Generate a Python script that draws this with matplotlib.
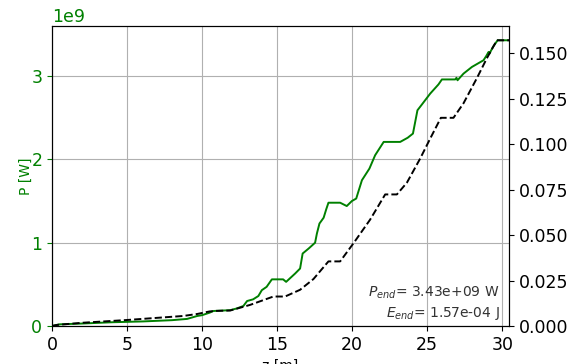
"""
Power and energy along z
"""

import matplotlib
matplotlib.use('Agg')
import matplotlib.pyplot as plt
from matplotlib.ticker import MultipleLocator
import numpy as np

# power curve
z_p = [0, 0.5, 2.07, 4, 6.07, 8, 9, 9.67, 10, 10.5, 10.75, 11.87, 12.3, 12.75,
       13, 13.4, 13.75, 13.98, 14.3, 14.65, 15.4, 15.6, 15.9, 16.2, 16.53, 16.7,
       17.1, 17.53, 17.65, 17.82, 18.1, 18.27, 18.42, 19.2, 19.64, 19.98, 20.27,
       20.65, 21.15, 21.53, 22.1, 23.2, 23.7, 24.05, 24.35, 24.65, 25.2, 25.75,
       25.98, 26.87, 26.95, 27.02, 27.42, 27.98, 28.75, 28.93, 29.09, 29.15,
       29.38, 29.69, 30.45]
p_gw = [0, 0.02, 0.03, 0.045, 0.055, 0.07, 0.085, 0.12, 0.13, 0.16, 0.18, 0.19,
        0.21, 0.24, 0.30, 0.32, 0.36, 0.43, 0.47, 0.56, 0.56, 0.53, 0.58, 0.63,
        0.69, 0.87, 0.93, 1.0, 1.11, 1.23, 1.30, 1.40, 1.48, 1.48, 1.44, 1.50,
        1.53, 1.75, 1.89, 2.05, 2.21, 2.21, 2.26, 2.31, 2.59, 2.66, 2.79, 2.90,
        2.96, 2.96, 2.98, 2.95, 3.03, 3.11, 3.19, 3.24, 3.29, 3.27, 3.35, 3.43,
        3.43]

# energy curve (mJ)
z_e = [0, 0.33, 2.07, 5, 7.2, 8.73, 9.67, 10.5, 10.9, 11.87, 13.2, 14.75, 15.53,
       16.53, 17.42, 18.42, 19.2, 20.1, 21.2, 22.2, 22.98, 23.65, 24.53, 25.2,
       25.91, 26.75, 27.42, 28.31, 28.98, 29.64, 30.45]
e_mj = [0, 0.0006, 0.0018, 0.0033, 0.0046, 0.0055, 0.0066, 0.0080, 0.0083,
        0.0085, 0.0116, 0.0162, 0.0162, 0.0199, 0.0258, 0.0355, 0.0355, 0.0456,
        0.0585, 0.0723, 0.0723, 0.0788, 0.092, 0.103, 0.1144, 0.1144, 0.1224,
        0.1362, 0.1472, 0.157, 0.157]

P_END = 3.43e9
E_END = 1.57e-4

p_w = np.array(p_gw) * 1e9

fig = plt.figure(figsize=(5.67, 3.64), dpi=100)
ax = fig.add_axes([52/567, 38/364, 457/567, 300/364])

ax.plot(z_p, p_w, color='green', linewidth=1.4)
ax.set_xlim(0, max(z_p))
ax.set_ylim(0, max(p_w) * 1.05)
ax.yaxis.set_major_locator(MultipleLocator(1e9))
ax.set_xlabel('z [m]', fontsize=10)
ax.set_ylabel('P [W]', color='green', fontsize=10, labelpad=-1)
ax.tick_params(axis='y', colors='green', labelsize=12.5)
ax.tick_params(axis='x', labelsize=12.5)
ax.yaxis.get_offset_text().set_fontsize(12.5)
ax.yaxis.get_offset_text().set_color('green')
ax.grid(True)

ax2 = ax.twinx()
ax2.plot(z_e, e_mj, 'k--', linewidth=1.4)
ax2.set_ylim(0, max(e_mj) * 1.05)
ax2.tick_params(axis='y', labelsize=12.5)

ax.text(0.98, 0.015, '$P_{end}$= %.2e W\n$E_{end}$= %.2e J' % (P_END, E_END),
        transform=ax.transAxes, ha='right', va='bottom', fontsize=10,
        color='#333333', linespacing=1.3)

plt.savefig('out.png', dpi=100)
plt.close()
